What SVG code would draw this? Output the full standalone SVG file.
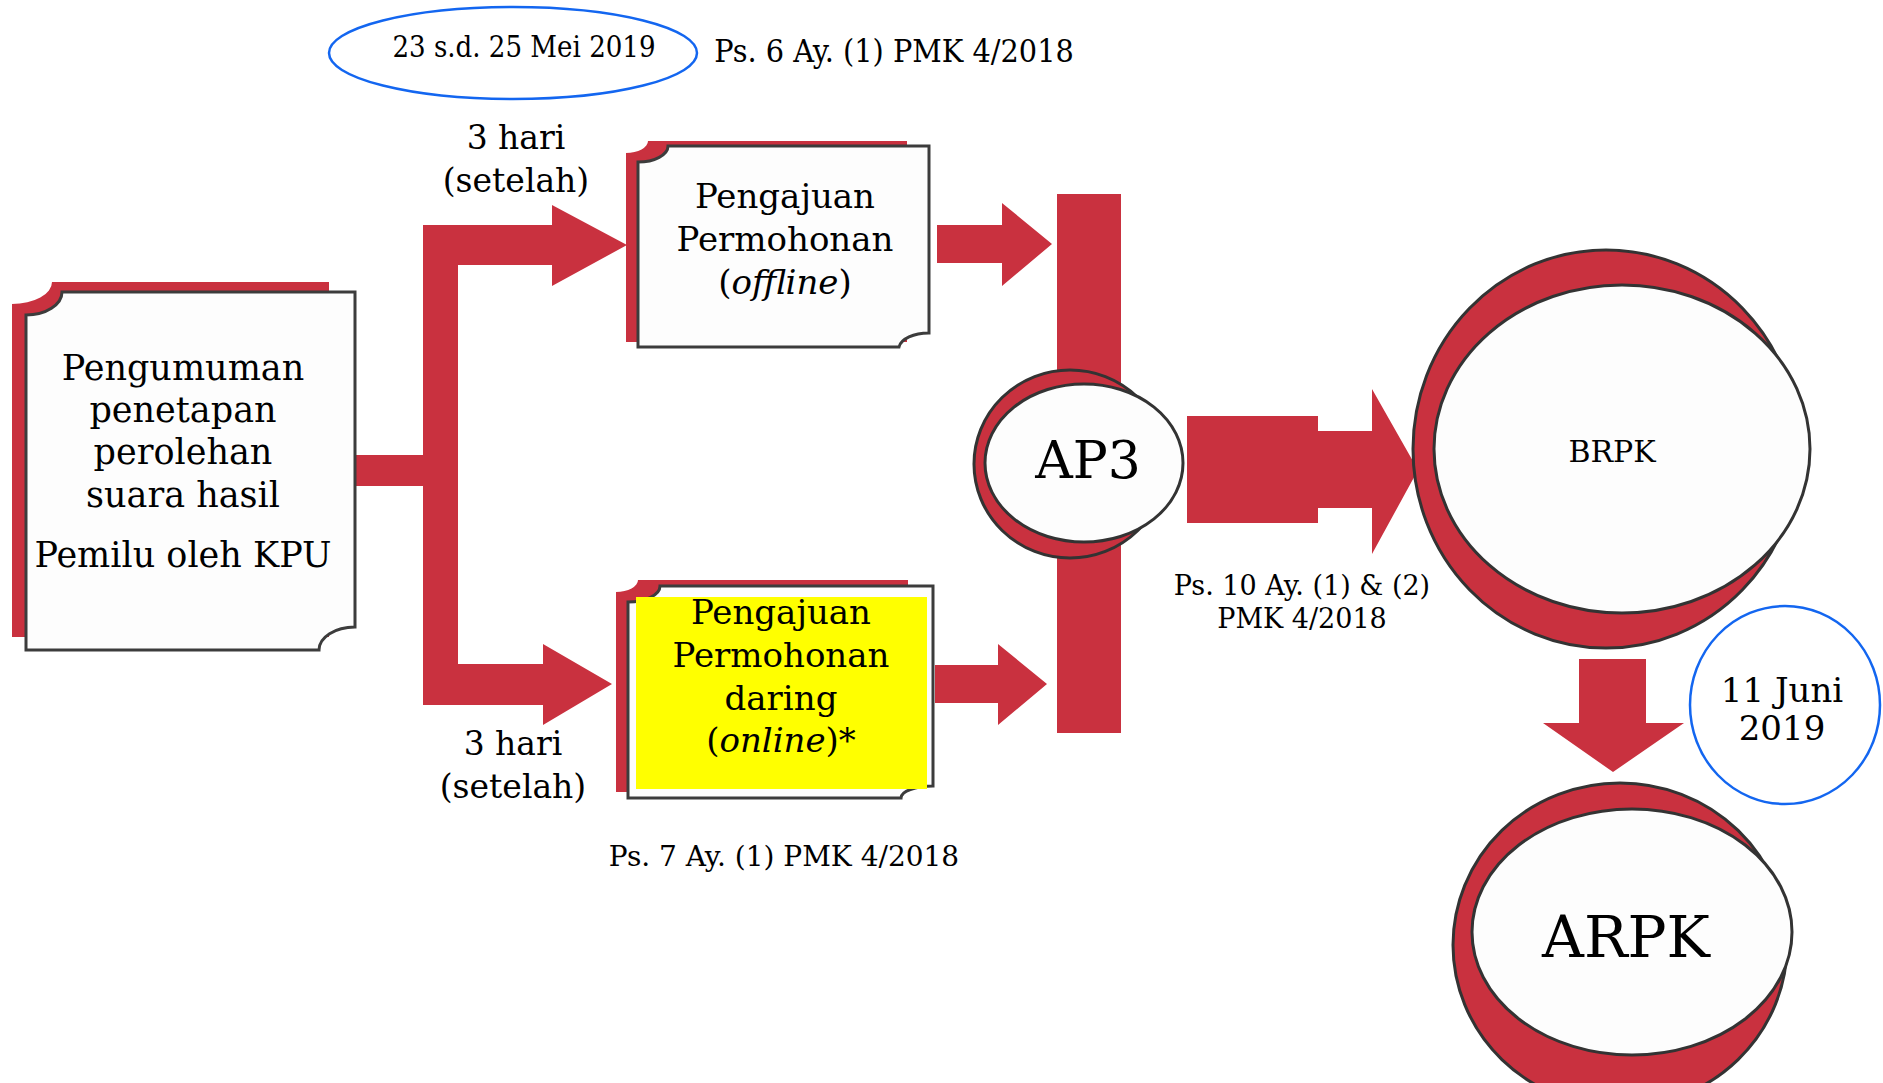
<svg xmlns="http://www.w3.org/2000/svg" width="1883" height="1083" viewBox="0 0 1883 1083">
<style>
.red{fill:#c9313f}
.plaque{fill:#fdfdfd;stroke:#3c3c3c;stroke-width:3}
.ring{fill:#c9313f;stroke:#333;stroke-width:3}
.face{fill:#fdfdfd;stroke:#333;stroke-width:3}
.blue{fill:#ffffff;stroke:#1366f0;stroke-width:2.5}
text{font-family:"DejaVu Serif","Liberation Serif",serif;fill:#000;text-anchor:middle}
.t35{font-size:35px}
.t34{font-size:34px}
.t33{font-size:33px}
.t28{font-size:28px}
.t27{font-size:27px}
.cond{font-family:"DejaVu Serif Condensed","DejaVu Serif",serif;font-stretch:condensed;font-size:29px}
.it{font-style:italic}
</style>
<rect width="1883" height="1083" fill="#ffffff"/>

<g id="connectors">
  <rect class="red" x="355" y="455" width="70" height="31"/>
  <rect class="red" x="423" y="225" width="35" height="480"/>
  <polygon class="red" points="423,225 552,225 552,205 627,245 552,286 552,265 423,265"/>
  <polygon class="red" points="423,664 543,664 543,644 612,684 543,725 543,705 423,705"/>
  <polygon class="red" points="937,225 1002,225 1002,203 1052,244 1002,286 1002,263 937,263"/>
  <polygon class="red" points="935,665 998,665 998,644 1047,684 998,725 998,703 935,703"/>
  <rect class="red" x="1057" y="194" width="64" height="539"/>
  <rect class="red" x="1187" y="416" width="131" height="107"/>
  <polygon class="red" points="1310,431 1372,431 1372,389 1418,470 1372,554 1372,508 1310,508"/>
  <polygon class="red" points="1579,659 1646,659 1646,723 1684,723 1613,772 1543,723 1579,723"/>
</g>

<g id="node-pengumuman">
  <path class="red" d="M12,304 A40 22 0 0 0 52,282 L329,282 L329,637 L12,637 Z"/>
  <path class="plaque" d="M26,315 A36 23 0 0 0 62,292 L355,292 L355,627 A36 23 0 0 0 319,650 L26,650 Z"/>
  <text class="t35" x="183" y="380">Pengumuman</text>
  <text class="t35" x="183" y="422">penetapan</text>
  <text class="t35" x="183" y="464">perolehan</text>
  <text class="t35" x="183" y="507">suara hasil</text>
  <text class="t35" x="183" y="567">Pemilu oleh KPU</text>
</g>

<g id="node-offline">
  <path class="red" d="M626,153 A22 12 0 0 0 648,141 L907,141 L907,342 L626,342 Z"/>
  <path class="plaque" d="M638,162 A30 16 0 0 0 668,146 L929,146 L929,333 A30 16 0 0 0 899,347 L638,347 Z"/>
  <text class="t34" x="785" y="208">Pengajuan</text>
  <text class="t34" x="785" y="251">Permohonan</text>
  <text class="t34" x="785" y="294">(<tspan class="it">offline</tspan>)</text>
</g>

<g id="node-online">
  <path class="red" d="M616,592 A22 12 0 0 0 638,580 L908,580 L908,792 L616,792 Z"/>
  <path class="plaque" d="M628,602 A32 16 0 0 0 660,586 L933,586 L933,786 A32 12 0 0 0 901,798 L628,798 Z"/>
  <rect x="636" y="597" width="291" height="192" fill="#ffff00"/>
  <text class="t34" x="781" y="624">Pengajuan</text>
  <text class="t34" x="781" y="667">Permohonan</text>
  <text class="t34" x="781" y="710">daring</text>
  <text class="t34" x="781" y="752">(<tspan class="it">online</tspan>)*</text>
</g>

<g id="node-ap3">
  <ellipse class="ring" cx="1070" cy="464" rx="96" ry="94"/>
  <ellipse class="face" cx="1084" cy="463" rx="99" ry="79"/>
  <text x="1088" y="478" font-size="52">AP3</text>
</g>

<g id="node-brpk">
  <ellipse class="ring" cx="1606" cy="449" rx="193" ry="199"/>
  <ellipse class="face" cx="1622" cy="449" rx="188" ry="164"/>
  <text x="1612" y="462" font-size="30">BRPK</text>
</g>

<g id="node-arpk">
  <ellipse class="ring" cx="1620" cy="945" rx="167" ry="162"/>
  <ellipse class="face" cx="1632" cy="932" rx="160" ry="123"/>
  <text x="1626" y="957" font-size="58">ARPK</text>
</g>

<g id="node-date-top">
  <ellipse class="blue" cx="513" cy="53" rx="184" ry="46"/>
  <text class="cond" x="524" y="57">23 s.d. 25 Mei 2019</text>
</g>

<g id="node-date-juni">
  <ellipse class="blue" cx="1785" cy="705" rx="95" ry="99"/>
  <text x="1782" y="702" font-size="34">11 Juni</text>
  <text x="1782" y="740" font-size="34">2019</text>
</g>

<g id="labels">
  <text class="cond" x="894" y="62" style="font-size:32px">Ps. 6 Ay. (1) PMK 4/2018</text>
  <text class="t33" x="516" y="149">3 hari</text>
  <text class="t33" x="516" y="192">(setelah)</text>
  <text class="t33" x="513" y="755">3 hari</text>
  <text class="t33" x="513" y="798">(setelah)</text>
  <text class="t28" x="784" y="866">Ps. 7 Ay. (1) PMK 4/2018</text>
  <text class="t27" x="1302" y="595">Ps. 10 Ay. (1) &amp; (2)</text>
  <text class="t27" x="1302" y="628">PMK 4/2018</text>
</g>
</svg>
